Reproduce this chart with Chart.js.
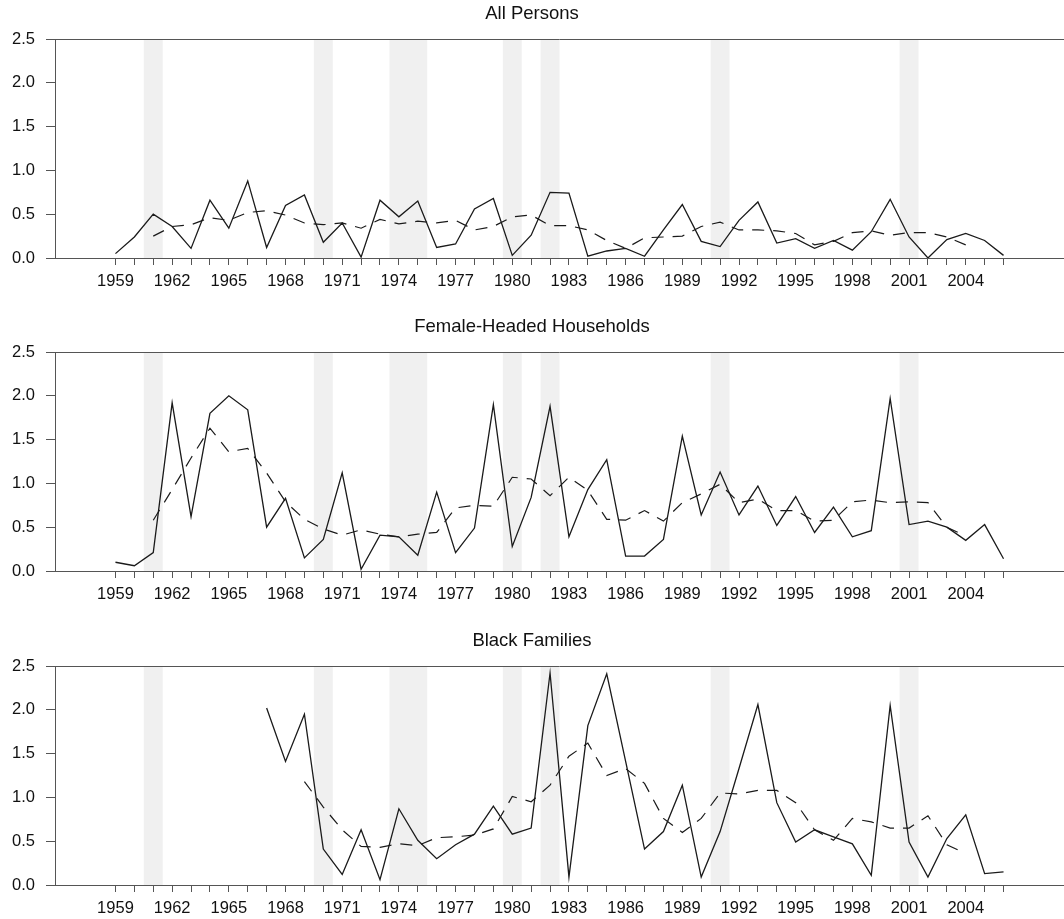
<!DOCTYPE html>
<html>
<head>
<meta charset="utf-8">
<script src="https://cdn.jsdelivr.net/npm/chart.js@4"></script>
<style>
  body { margin: 0; background: #fff; }
  .panel { position: absolute; left: 0; width: 1064px; height: 292px; }
</style>
</head>
<body>
<div class="panel" style="top:0px"><canvas id="c1"></canvas></div>
<div class="panel" style="top:313px"><canvas id="c2"></canvas></div>
<div class="panel" style="top:627px"><canvas id="c3"></canvas></div>
<script>
// Years on the x axis (one tick per year, label every 3rd)
const years = [1959, 1960, 1961, 1962, 1963, 1964, 1965, 1966, 1967, 1968,
               1969, 1970, 1971, 1972, 1973, 1974, 1975, 1976, 1977, 1978,
               1979, 1980, 1981, 1982, 1983, 1984, 1985, 1986, 1987, 1988,
               1989, 1990, 1991, 1992, 1993, 1994, 1995, 1996, 1997, 1998,
               1999, 2000, 2001, 2002, 2003, 2004, 2005, 2006];
const labelYears = [1959, 1962, 1965, 1968, 1971, 1974, 1977, 1980, 1983, 1986, 1989, 1992, 1995, 1998, 2001, 2004];
const yTicks = [0, 0.5, 1.0, 1.5, 2.0, 2.5];

// Recession bands (grey shading)
const recessions = [[1960.5, 1961.5], [1969.5, 1970.5], [1973.5, 1975.5], [1979.5, 1980.5],
                    [1981.5, 1982.5], [1990.5, 1991.5], [2000.5, 2001.5]];

// All Persons
const allSolid = [0.05, 0.24, 0.50, 0.36, 0.11, 0.66, 0.34, 0.88, 0.12, 0.60,
                  0.72, 0.18, 0.40, 0.01, 0.66, 0.47, 0.65, 0.12, 0.16, 0.56,
                  0.68, 0.03, 0.26, 0.75, 0.74, 0.02, 0.08, 0.11, 0.02, 0.32,
                  0.61, 0.19, 0.13, 0.43, 0.64, 0.17, 0.22, 0.11, 0.20, 0.09,
                  0.30, 0.67, 0.24, 0.00, 0.21, 0.28, 0.20, 0.03];
const allDashed = [null, null, 0.25, 0.36, 0.38, 0.46, 0.43, 0.52, 0.54, 0.49,
                   0.40, 0.38, 0.40, 0.34, 0.44, 0.39, 0.42, 0.40, 0.43, 0.32,
                   0.36, 0.47, 0.49, 0.37, 0.37, 0.32, 0.20, 0.11, 0.23, 0.24,
                   0.25, 0.36, 0.41, 0.32, 0.32, 0.31, 0.28, 0.15, 0.19, 0.29,
                   0.31, 0.26, 0.29, 0.29, 0.24, 0.15, null, null];

// Female-Headed Households
const femSolid = [0.10, 0.06, 0.21, 1.92, 0.62, 1.80, 2.00, 1.84, 0.50, 0.83,
                  0.15, 0.36, 1.12, 0.02, 0.41, 0.39, 0.18, 0.90, 0.21, 0.49,
                  1.90, 0.28, 0.84, 1.88, 0.39, 0.93, 1.27, 0.17, 0.17, 0.36,
                  1.54, 0.64, 1.13, 0.64, 0.97, 0.52, 0.85, 0.44, 0.73, 0.39,
                  0.46, 1.97, 0.53, 0.57, 0.50, 0.35, 0.53, 0.14];
const femDashed = [null, null, 0.58, 0.93, 1.29, 1.63, 1.36, 1.40, 1.12, 0.79,
                   0.59, 0.48, 0.41, 0.47, 0.42, 0.39, 0.42, 0.44, 0.72, 0.75,
                   0.74, 1.07, 1.05, 0.86, 1.07, 0.92, 0.59, 0.58, 0.69, 0.57,
                   0.78, 0.88, 0.99, 0.78, 0.82, 0.69, 0.69, 0.57, 0.58, 0.79,
                   0.81, 0.78, 0.79, 0.78, 0.50, 0.40, null, null];

// Black Families (no data before 1967)
const blackSolid = [null, null, null, null, null, null, null, null, 2.02, 1.41,
                    1.95, 0.41, 0.12, 0.63, 0.06, 0.87, 0.51, 0.30, 0.46, 0.58,
                    0.90, 0.58, 0.65, 2.42, 0.09, 1.82, 2.41, 1.41, 0.41, 0.61,
                    1.14, 0.09, 0.61, 1.33, 2.06, 0.94, 0.49, 0.63, 0.55, 0.47,
                    0.11, 2.05, 0.49, 0.09, 0.53, 0.80, 0.13, 0.15];
const blackDashed = [null, null, null, null, null, null, null, null, null, null,
                     1.18, 0.89, 0.63, 0.44, 0.43, 0.47, 0.45, 0.54, 0.55, 0.57,
                     0.64, 1.01, 0.95, 1.14, 1.47, 1.62, 1.25, 1.33, 1.16, 0.76,
                     0.60, 0.76, 1.05, 1.04, 1.08, 1.08, 0.94, 0.63, 0.51, 0.76,
                     0.72, 0.65, 0.65, 0.79, 0.46, 0.36, null, null];

const krasas = { linija: '#1a1a1a', ass: '#555', teksts: '#111', ena: '#f0f0f0' };
Chart.defaults.font.family = "'Liberation Sans', Arial, Helvetica, sans-serif";

// grey recession bands + top frame line, drawn under everything
const fonaPlugin = {
  id: 'fona',
  beforeDraw(chart) {
    const { ctx, chartArea, scales } = chart;
    ctx.save();
    ctx.fillStyle = krasas.ena;
    recessions.forEach(([a, b]) => {
      const x1 = scales.x.getPixelForValue(a);
      const x2 = scales.x.getPixelForValue(b);
      ctx.fillRect(x1, chartArea.top, x2 - x1, chartArea.bottom - chartArea.top);
    });
    ctx.strokeStyle = krasas.ass;
    ctx.lineWidth = 1;
    ctx.beginPath();
    ctx.moveTo(chartArea.left, Math.round(chartArea.top) + 0.5);
    ctx.lineTo(chartArea.right, Math.round(chartArea.top) + 0.5);
    ctx.stroke();
    ctx.restore();
  }
};

function punkti(vertibas) {
  return years.map((g, i) => ({ x: g, y: vertibas[i] }));
}

function zimet(id, virsraksts, solid, dashed) {
  new Chart(document.getElementById(id), {
    type: 'line',
    data: {
      datasets: [
        { data: punkti(solid), borderColor: krasas.linija, borderWidth: 1.3, pointRadius: 0, tension: 0 },
        { data: punkti(dashed), borderColor: krasas.linija, borderWidth: 1.2, borderDash: [12, 9], pointRadius: 0, tension: 0 }
      ]
    },
    options: {
      responsive: true,
      maintainAspectRatio: false,
      animation: false,
      devicePixelRatio: 1,
      layout: { padding: 0 },
      plugins: {
        legend: { display: false },
        tooltip: { enabled: false },
        title: {
          display: true, text: virsraksts, color: krasas.teksts,
          font: { size: 18.5, weight: 'normal' },
          padding: { top: 3, bottom: 13.8 }
        }
      },
      scales: {
        x: {
          type: 'linear', min: 1955.8, max: 2009.2,
          afterBuildTicks: s => { s.ticks = years.map(v => ({ value: v })); },
          afterFit: s => { s.height = 34; },
          grid: { drawOnChartArea: false, tickLength: 7, color: krasas.ass },
          border: { color: krasas.ass, width: 1 },
          ticks: {
            autoSkip: false, maxRotation: 0, padding: 7, color: krasas.teksts,
            font: { size: 16.5 },
            callback: v => labelYears.includes(v) ? String(v) : ''
          }
        },
        y: {
          min: 0, max: 2.5,
          afterBuildTicks: s => { s.ticks = yTicks.map(v => ({ value: v })); },
          afterFit: s => { s.width = 55; },
          grid: { drawOnChartArea: false, tickLength: 9, color: krasas.ass },
          border: { color: krasas.ass, width: 1 },
          ticks: {
            padding: 11, color: krasas.teksts, font: { size: 16.5 },
            callback: v => v.toFixed(1)
          }
        }
      }
    },
    plugins: [fonaPlugin]
  });
}

zimet('c1', 'All Persons', allSolid, allDashed);
zimet('c2', 'Female-Headed Households', femSolid, femDashed);
zimet('c3', 'Black Families', blackSolid, blackDashed);
</script>
</body>
</html>
